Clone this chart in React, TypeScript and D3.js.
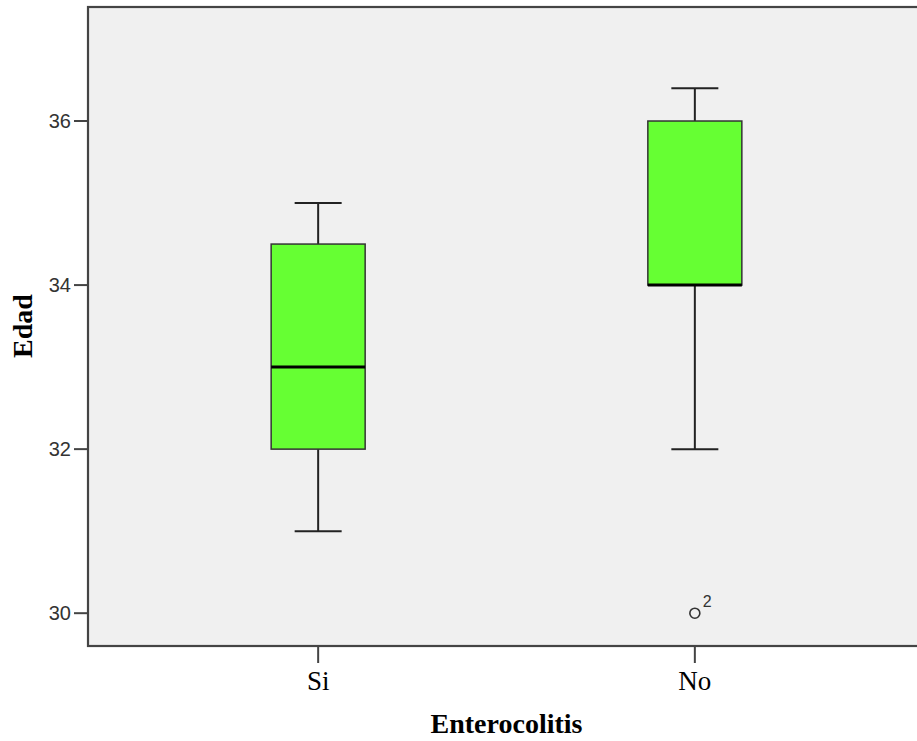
import React from "react";
import * as d3 from "d3";

// Edad por grupo de Enterocolitis
const categories = ["Si", "No"];
const lowerWhisker = [31, 32];
const q1 = [32, 34];
const median = [33, 34];
const q3 = [34.5, 36];
const upperWhisker = [35, 36.4];
const outlierValues = [[], [30]];
const outlierIds = [[], ["2"]];
const yTicks = [30, 32, 34, 36];

const W = 917;
const H = 741;
const frame = { left: 88, top: 7, right: 925, bottom: 646 };

export default function App() {
  const y = d3.scaleLinear().domain([29.6, 37.39]).range([frame.bottom, frame.top]);
  const x = d3
    .scalePoint<string>()
    .domain(categories)
    .range([frame.left, frame.right])
    .padding(0.611);
  const boxW = 94;
  const capW = 47;

  return (
    <svg
      width={W}
      height={H}
      style={{ position: "absolute", left: 0, top: 0, background: "#ffffff" }}
    >
      <rect
        x={frame.left}
        y={frame.top}
        width={frame.right - frame.left}
        height={frame.bottom - frame.top}
        fill="#f0f0f0"
        stroke="#444"
        strokeWidth={2.2}
      />
      {yTicks.map((t) => (
        <g key={t}>
          <line x1={74} x2={frame.left} y1={y(t)} y2={y(t)} stroke="#444" strokeWidth={2} />
          <text
            x={71}
            y={y(t)}
            dy="0.35em"
            textAnchor="end"
            fontFamily="'Liberation Sans', Arial, sans-serif"
            fontSize={20}
            fill="#333"
          >
            {t}
          </text>
        </g>
      ))}
      {categories.map((c, i) => {
        const cx = x(c)!;
        return (
          <g key={c}>
            <line x1={cx} x2={cx} y1={frame.bottom} y2={frame.bottom + 17} stroke="#444" strokeWidth={2} />
            <text
              x={cx}
              y={690}
              textAnchor="middle"
              fontFamily="'Liberation Serif', 'Times New Roman', serif"
              fontSize={27}
              fill="#000"
            >
              {c}
            </text>
            {/* whiskers */}
            <line x1={cx} x2={cx} y1={y(upperWhisker[i])} y2={y(q3[i])} stroke="#222" strokeWidth={2} />
            <line x1={cx} x2={cx} y1={y(q1[i])} y2={y(lowerWhisker[i])} stroke="#222" strokeWidth={2} />
            <line
              x1={cx - capW / 2}
              x2={cx + capW / 2}
              y1={y(upperWhisker[i])}
              y2={y(upperWhisker[i])}
              stroke="#222"
              strokeWidth={2}
            />
            <line
              x1={cx - capW / 2}
              x2={cx + capW / 2}
              y1={y(lowerWhisker[i])}
              y2={y(lowerWhisker[i])}
              stroke="#222"
              strokeWidth={2}
            />
            <rect
              x={cx - boxW / 2}
              y={y(q3[i])}
              width={boxW}
              height={y(q1[i]) - y(q3[i])}
              fill="#66ff33"
              stroke="#333"
              strokeWidth={1.5}
            />
            <line
              x1={cx - boxW / 2}
              x2={cx + boxW / 2}
              y1={y(median[i])}
              y2={y(median[i])}
              stroke="#000"
              strokeWidth={3}
            />
            {outlierValues[i].map((v, j) => (
              <g key={j}>
                <circle cx={cx} cy={y(v)} r={5} fill="none" stroke="#333" strokeWidth={1.6} />
                <text
                  x={cx + 8}
                  y={y(v) - 6}
                  fontFamily="'Liberation Sans', Arial, sans-serif"
                  fontSize={16}
                  fill="#333"
                >
                  {outlierIds[i][j]}
                </text>
              </g>
            ))}
          </g>
        );
      })}
      <text
        x={(frame.left + frame.right) / 2}
        y={733}
        textAnchor="middle"
        fontFamily="'Liberation Serif', 'Times New Roman', serif"
        fontWeight="bold"
        fontSize={28}
        fill="#000"
      >
        Enterocolitis
      </text>
      <text
        transform={`translate(32, 326) rotate(-90)`}
        textAnchor="middle"
        fontFamily="'Liberation Serif', 'Times New Roman', serif"
        fontWeight="bold"
        fontSize={28}
        fill="#000"
      >
        Edad
      </text>
    </svg>
  );
}
